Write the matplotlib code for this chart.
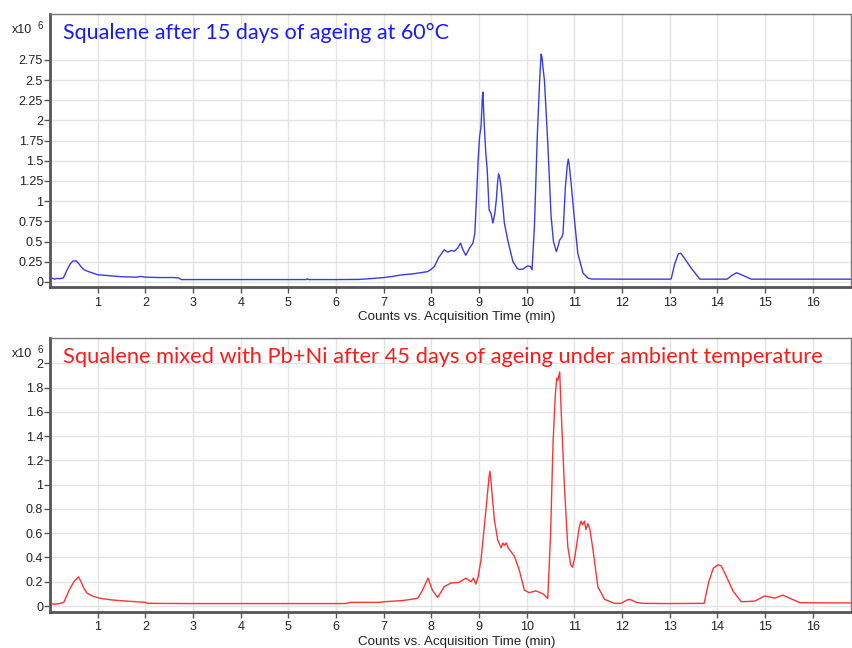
import matplotlib
matplotlib.use("Agg")
import matplotlib.pyplot as plt

# ---------------- data (x10^6 counts vs minutes) ----------------
t_top = [0.0, 0.05, 0.1, 0.15, 0.2, 0.28, 0.35, 0.42, 0.48, 0.55, 0.6, 0.65, 0.72, 0.8, 0.9, 1.0,
         1.2, 1.5, 1.8, 1.9, 2.0, 2.3, 2.6, 2.7, 2.75, 3.5, 4.5, 5.38, 5.4, 5.42, 6.0, 6.5, 6.8,
         7.0, 7.2, 7.36, 7.6, 7.92, 8.0, 8.06, 8.15, 8.27, 8.34, 8.42, 8.48, 8.55, 8.61, 8.66,
         8.72, 8.8, 8.87, 8.91, 8.95, 8.98, 9.01, 9.04, 9.07, 9.08, 9.09, 9.11, 9.14, 9.17, 9.21,
         9.25, 9.29, 9.33, 9.36, 9.39, 9.41, 9.43, 9.46, 9.53, 9.6, 9.71, 9.8, 9.84, 9.92, 10.02,
         10.08, 10.11, 10.16, 10.22, 10.27, 10.3, 10.32, 10.34, 10.37, 10.44, 10.51, 10.56, 10.62,
         10.66, 10.69, 10.73, 10.76, 10.81, 10.85, 10.87, 10.89, 10.93, 11.0, 11.07, 11.18, 11.28,
         11.35, 12.0, 13.0, 13.03, 13.1, 13.18, 13.23, 13.3, 13.45, 13.63, 14.2, 14.3, 14.4, 14.5,
         14.71, 16.8]
v_top = [0.04, 0.045, 0.035, 0.045, 0.04, 0.05, 0.14, 0.22, 0.26, 0.26, 0.23, 0.19, 0.15, 0.13,
         0.11, 0.09, 0.08, 0.065, 0.06, 0.068, 0.06, 0.055, 0.055, 0.05, 0.03, 0.03, 0.03, 0.03,
         0.04, 0.03, 0.03, 0.032, 0.045, 0.055, 0.07, 0.087, 0.1, 0.128, 0.16, 0.19, 0.3, 0.40,
         0.37, 0.39, 0.38, 0.42, 0.48, 0.40, 0.33, 0.42, 0.48, 0.60, 1.1, 1.51, 1.8, 1.92, 2.3,
         2.35, 2.2, 1.92, 1.6, 1.39, 0.89, 0.85, 0.73, 0.85, 1.01, 1.25, 1.34, 1.3, 1.18, 0.73,
         0.52, 0.25, 0.17, 0.155, 0.16, 0.20, 0.19, 0.15, 0.68, 1.8, 2.5, 2.82, 2.78, 2.65, 2.5,
         1.72, 0.81, 0.5, 0.375, 0.45, 0.52, 0.55, 0.60, 1.18, 1.45, 1.52, 1.45, 1.22, 0.77, 0.355,
         0.11, 0.05, 0.037, 0.035, 0.035, 0.04, 0.22, 0.35, 0.355, 0.3, 0.17, 0.035, 0.035, 0.08,
         0.115, 0.09, 0.035, 0.035]

t_bot = [0.0, 0.1, 0.2, 0.29, 0.4, 0.5, 0.6, 0.65, 0.72, 0.78, 0.9, 1.06, 1.3, 1.48, 1.8, 2.0,
         2.05, 3.0, 4.0, 5.0, 6.2, 6.3, 6.9, 7.0, 7.4, 7.71, 7.8, 7.93, 8.02, 8.13, 8.27, 8.41,
         8.58, 8.72, 8.83, 8.88, 8.93, 8.98, 9.04, 9.15, 9.21, 9.23, 9.26, 9.32, 9.39, 9.46, 9.5,
         9.53, 9.57, 9.61, 9.74, 9.84, 9.95, 10.05, 10.19, 10.34, 10.44, 10.50, 10.55, 10.60,
         10.63, 10.65, 10.69, 10.72, 10.79, 10.86, 10.92, 10.96, 11.01, 11.10, 11.14, 11.17,
         11.21, 11.24, 11.28, 11.32, 11.39, 11.49, 11.63, 11.84, 11.98, 12.1, 12.16, 12.3, 12.42,
         13.0, 13.72, 13.81, 13.91, 14.01, 14.08, 14.19, 14.33, 14.50, 14.78, 14.99, 15.2, 15.37,
         15.51, 15.73, 16.8]
v_bot = [0.02, 0.015, 0.02, 0.03, 0.13, 0.2, 0.24, 0.2, 0.14, 0.105, 0.08, 0.063, 0.05, 0.044,
         0.035, 0.03, 0.022, 0.02, 0.02, 0.02, 0.02, 0.03, 0.03, 0.035, 0.045, 0.063, 0.12, 0.23,
         0.13, 0.07, 0.16, 0.19, 0.195, 0.23, 0.20, 0.23, 0.18, 0.24, 0.38, 0.82, 1.07, 1.11, 0.98,
         0.71, 0.545, 0.48, 0.52, 0.50, 0.52, 0.48, 0.41, 0.30, 0.13, 0.11, 0.125, 0.10, 0.063,
         0.60, 1.34, 1.75, 1.88, 1.86, 1.93, 1.62, 0.98, 0.49, 0.34, 0.32, 0.41, 0.65, 0.70, 0.67,
         0.70, 0.63, 0.68, 0.64, 0.46, 0.16, 0.055, 0.022, 0.022, 0.05, 0.055, 0.03, 0.022, 0.02,
         0.022, 0.19, 0.31, 0.34, 0.33, 0.24, 0.12, 0.035, 0.04, 0.083, 0.065, 0.09, 0.065, 0.027,
         0.025]

x_ticks = list(range(1, 17))
top_yticks = [0, 0.25, 0.5, 0.75, 1, 1.25, 1.5, 1.75, 2, 2.25, 2.5, 2.75]
top_ylabels = ["0", "0.25", "0.5", "0.75", "1", "1.25", "1.5", "1.75", "2", "2.25", "2.5", "2.75"]
bot_yticks = [0, 0.2, 0.4, 0.6, 0.8, 1.0, 1.2, 1.4, 1.6, 1.8, 2.0]
bot_ylabels = ["0", "0.2", "0.4", "0.6", "0.8", "1", "1.2", "1.4", "1.6", "1.8", "2"]

title_top = "Squalene after 15 days of ageing at 60°C"
title_bot = "Squalene mixed with Pb+Ni after 45 days of ageing under ambient temperature"
xlabel = "Counts vs. Acquisition Time (min)"

# ---------------- figure ----------------
W, H = 852, 648
fig = plt.figure(figsize=(W / 100, H / 100), dpi=100)

def px_axes(left, top, right, bottom):
    return fig.add_axes([left / W, 1 - bottom / H, (right - left) / W, (bottom - top) / H])

ax1 = px_axes(50, 14, 851, 287)
ax2 = px_axes(50, 338, 851, 611.7)

tick_font = dict(family=["Liberation Sans", "DejaVu Sans"], size=9)

def style(ax, yticks, ylabels, ylim):
    ax.set_xlim(0, 16.8)
    ax.set_ylim(*ylim)
    ax.set_xticks(x_ticks)
    ax.set_xticklabels([str(v) for v in x_ticks], **tick_font, color="#222222")
    ax.set_yticks(yticks)
    ax.set_yticklabels(ylabels, **tick_font, color="#222222")
    ax.grid(True, color="#e4e4e4", linewidth=1.0)
    ax.set_axisbelow(True)
    ax.tick_params(axis="both", direction="out", length=4, width=1, color="#555555")
    ax.tick_params(axis="x", pad=3)
    ax.tick_params(axis="y", pad=1)
    for s in ("left", "bottom"):
        ax.spines[s].set_linewidth(2.0)
        ax.spines[s].set_color("#555555")
    for s in ("top", "right"):
        ax.spines[s].set_linewidth(1.0)
        ax.spines[s].set_color("#777777")
    ax.set_xlabel(xlabel, family=["Liberation Sans Narrow", "Liberation Sans", "DejaVu Sans"],
                  size=9.6, color="#222222", labelpad=3)
    ax.xaxis.set_label_coords((457 - 50) / (851 - 50), -0.088)

ax1.plot(t_top, v_top, color="#3b3be6", linewidth=1.0)
ax2.plot(t_bot, v_bot, color="#ff3333", linewidth=1.0)

style(ax1, top_yticks, top_ylabels, (-0.062, 3.317))
style(ax2, bot_yticks, bot_ylabels, (-0.047, 2.21))

title_font = ["Lato", "DejaVu Sans"]
fig.text(63 / W, 1 - 39 / H, title_top, color="#1a1aff", family=title_font, size=15.5,
         va="baseline", ha="left")
fig.text(63 / W, 1 - 363 / H, title_bot, color="#ff1a1a", family=title_font, size=15.75,
         va="baseline", ha="left")

for base in (33, 357):
    fig.text(12 / W, 1 - base / H, "x10", family=["Liberation Sans", "DejaVu Sans"], size=9,
             color="#222222", va="baseline", ha="left")
    fig.text(37 / W, 1 - (base - 4) / H, "6", family=["Liberation Sans", "DejaVu Sans"], size=7,
             color="#222222", va="baseline", ha="left")

fig.savefig("out.png", dpi=100)
